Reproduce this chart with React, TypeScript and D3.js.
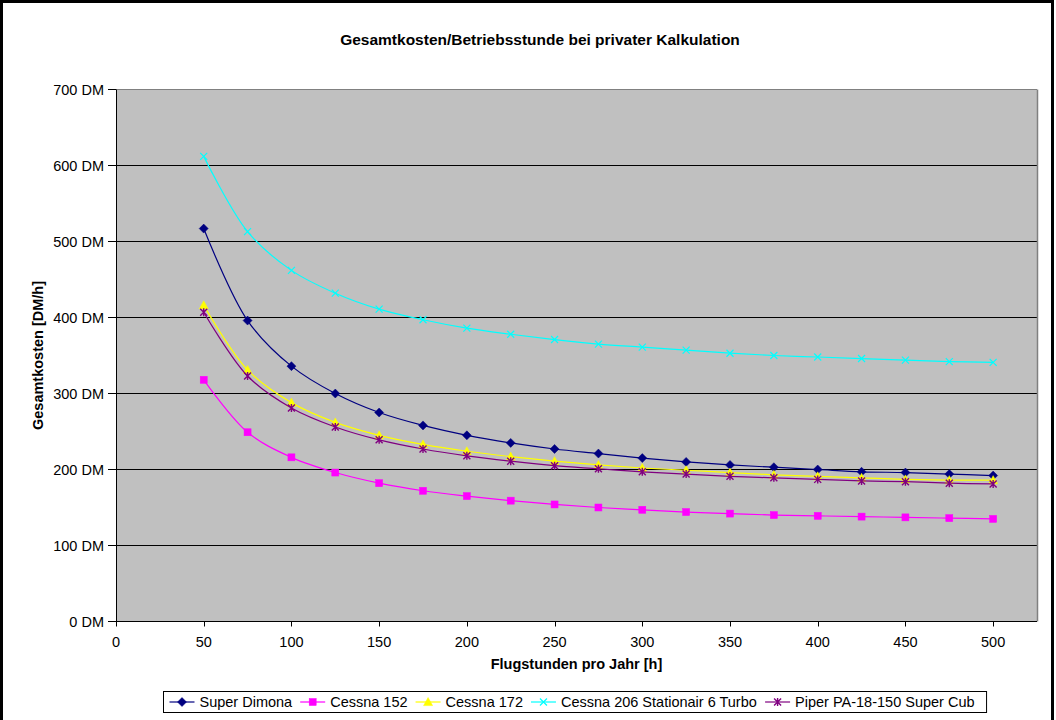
import React from "react";
import * as d3 from "d3";

const hours = [50, 75, 100, 125, 150, 175, 200, 225, 250, 275, 300, 325, 350, 375, 400, 425, 450, 475, 500];
const superDimona = [517, 396, 336, 300, 275, 258, 245, 235, 227, 221, 215, 210, 206, 203, 200, 197, 196, 194, 192];
const cessna152 = [318, 249, 216, 196, 182, 172, 165, 159, 154, 150, 147, 144, 142, 140, 139, 138, 137, 136, 135];
const cessna172 = [416, 331, 288, 262, 245, 233, 224, 217, 211, 206, 202, 199, 196, 193, 191, 189, 187, 186, 186];
const cessna206 = [612, 513, 462, 432, 411, 397, 386, 378, 371, 365, 361, 357, 353, 350, 348, 346, 344, 342, 341];
const piper = [407, 323, 281, 256, 239, 227, 218, 211, 205, 201, 197, 194, 191, 189, 187, 185, 184, 182, 181];

const seriesNames = ["Super Dimona", "Cessna 152", "Cessna 172", "Cessna 206 Stationair 6 Turbo", "Piper PA-18-150 Super Cub"];
const seriesValues = [superDimona, cessna152, cessna172, cessna206, piper];
const seriesColors = ["#000080", "#FF00FF", "#FFFF00", "#00FFFF", "#800080"];
const seriesMarkers = ["diamond", "square", "triangle", "x", "asterisk"];

const xTicks = [0, 50, 100, 150, 200, 250, 300, 350, 400, 450, 500];
const yTicks = [0, 100, 200, 300, 400, 500, 600, 700];

const title = "Gesamtkosten/Betriebsstunde bei privater Kalkulation";
const xTitle = "Flugstunden pro Jahr [h]";
const yTitle = "Gesamtkosten [DM/h]";

const FONT = "'Liberation Sans', Arial, sans-serif";
const FS = 14.5;

function measure(text: string, size: number, weight = "normal") {
  if (typeof document === "undefined") return text.length * size * 0.55;
  const c = document.createElement("canvas");
  const ctx = c.getContext("2d");
  if (!ctx) return text.length * size * 0.55;
  ctx.font = `${weight} ${size}px 'Liberation Sans', Arial, sans-serif`;
  return ctx.measureText(text).width;
}

function Marker({ type, x, y, color }: { type: string; x: number; y: number; color: string }) {
  if (type === "diamond") {
    const s = 4.5;
    return <path d={`M${x},${y - s}L${x + s},${y}L${x},${y + s}L${x - s},${y}Z`} fill={color} stroke={color} strokeWidth={0.5} />;
  }
  if (type === "square") {
    const s = 3.5;
    return <rect x={x - s} y={y - s} width={2 * s} height={2 * s} fill={color} stroke={color} strokeWidth={0.5} />;
  }
  if (type === "triangle") {
    const s = 4.5;
    return <path d={`M${x},${y - s}L${x + s},${y + s * 0.8}L${x - s},${y + s * 0.8}Z`} fill={color} stroke={color} strokeWidth={0.5} />;
  }
  if (type === "x") {
    const s = 3.5;
    return <path d={`M${x - s},${y - s}L${x + s},${y + s}M${x + s},${y - s}L${x - s},${y + s}`} stroke={color} strokeWidth={1.2} fill="none" />;
  }
  const s = 3.5;
  return (
    <path
      d={`M${x - s},${y - s}L${x + s},${y + s}M${x + s},${y - s}L${x - s},${y + s}M${x},${y - s - 0.5}L${x},${y + s + 0.5}`}
      stroke={color}
      strokeWidth={1.4}
      fill="none"
    />
  );
}

export default function App() {
  const W = 1056;
  const H = 720;
  const left = 116;
  const right = 1037;
  const top = 89.5;
  const bottom = 621.5;

  const x = d3.scaleLinear().domain([0, 525]).range([left, right]);
  const y = d3.scaleLinear().domain([0, 700]).range([bottom, top]);

  const line = d3
    .line<[number, number]>()
    .x((d) => x(d[0]))
    .y((d) => y(d[1]))
    .curve(d3.curveCatmullRom.alpha(0.5));

  // legend layout
  const textWidths = seriesNames.map((n) => measure(n, FS));
  const itemWidths = textWidths.map((w) => 30 + w);
  const gap = 8;
  const legendInner = d3.sum(itemWidths) + gap * (seriesNames.length - 1);
  const legendPad = 6;
  const legendW = legendInner + legendPad * 2 + 6;
  const legendCx = 574.5;
  const legendX = Math.round(legendCx - legendW / 2) + 0.5;
  const legendY = 691.5;
  const legendH = 21;
  let cursor = legendX + legendPad;
  const itemX = itemWidths.map((w) => {
    const v = cursor;
    cursor += w + gap;
    return v;
  });

  return (
    <div style={{ position: "absolute", left: 0, top: 0 }}>
      <svg width={W} height={H} style={{ display: "block" }} fontFamily={FONT}>
        <rect x={0} y={0} width={W} height={H} fill="#ffffff" />
        <rect x={1.5} y={1.5} width={1051} height={H + 5} fill="none" stroke="#000" strokeWidth={3} />

        <text x={540} y={45} textAnchor="middle" fontSize={15.5} fontWeight="bold" fill="#000">
          {title}
        </text>

        {/* plot area */}
        <rect x={left} y={top} width={right - left} height={bottom - top} fill="#C0C0C0" />
        {yTicks
          .filter((t) => t > 0 && t < 700)
          .map((t) => (
            <line key={t} x1={left} x2={right} y1={y(t)} y2={y(t)} stroke="#000" strokeWidth={1} />
          ))}
        <line x1={left} x2={right} y1={top} y2={top} stroke="#808080" strokeWidth={1} />
        <line x1={right + 0.5} x2={right + 0.5} y1={top} y2={bottom} stroke="#808080" strokeWidth={1.5} />

        {/* axes */}
        <line x1={left + 0.5} x2={left + 0.5} y1={top} y2={bottom} stroke="#000" strokeWidth={1} />
        <line x1={left} x2={right} y1={bottom} y2={bottom} stroke="#000" strokeWidth={1} />
        {yTicks.map((t) => (
          <g key={t}>
            <line x1={left - 8} x2={left} y1={y(t)} y2={y(t)} stroke="#000" strokeWidth={1} />
            <text x={104} y={y(t)} dy="0.35em" textAnchor="end" fontSize={FS} fill="#000">
              {`${t} DM`}
            </text>
          </g>
        ))}
        {xTicks.map((t) => (
          <g key={t}>
            <line x1={Math.round(x(t)) + 0.5} x2={Math.round(x(t)) + 0.5} y1={bottom} y2={bottom + 5} stroke="#000" strokeWidth={1} />
            <text x={x(t)} y={647} textAnchor="middle" fontSize={FS} fill="#000">
              {t}
            </text>
          </g>
        ))}

        <text x={(left + right) / 2} y={669} textAnchor="middle" fontSize={FS} fontWeight="bold" fill="#000">
          {xTitle}
        </text>
        <text
          transform={`translate(43,${(top + bottom) / 2}) rotate(-90)`}
          textAnchor="middle"
          fontSize={FS}
          fontWeight="bold"
          fill="#000"
        >
          {yTitle}
        </text>

        {/* series */}
        {seriesValues.map((vals, i) => {
          const pts = hours.map((h, j) => [h, vals[j]] as [number, number]);
          return (
            <g key={seriesNames[i]}>
              <path d={line(pts) || ""} fill="none" stroke={seriesColors[i]} strokeWidth={1.2} />
              {pts.map((p, j) => (
                <Marker key={j} type={seriesMarkers[i]} x={x(p[0])} y={y(p[1])} color={seriesColors[i]} />
              ))}
            </g>
          );
        })}

        {/* legend */}
        <rect x={legendX} y={legendY} width={legendW} height={legendH} fill="#fff" stroke="#000" strokeWidth={1} />
        {seriesNames.map((n, i) => {
          const lx = itemX[i];
          const cy = legendY + legendH / 2;
          return (
            <g key={n}>
              <line x1={lx} x2={lx + 25} y1={cy} y2={cy} stroke={seriesColors[i]} strokeWidth={1.2} />
              <Marker type={seriesMarkers[i]} x={lx + 12.5} y={cy} color={seriesColors[i]} />
              <text x={lx + 30} y={cy} dy="0.36em" fontSize={FS} fill="#000">
                {n}
              </text>
            </g>
          );
        })}
      </svg>
    </div>
  );
}
